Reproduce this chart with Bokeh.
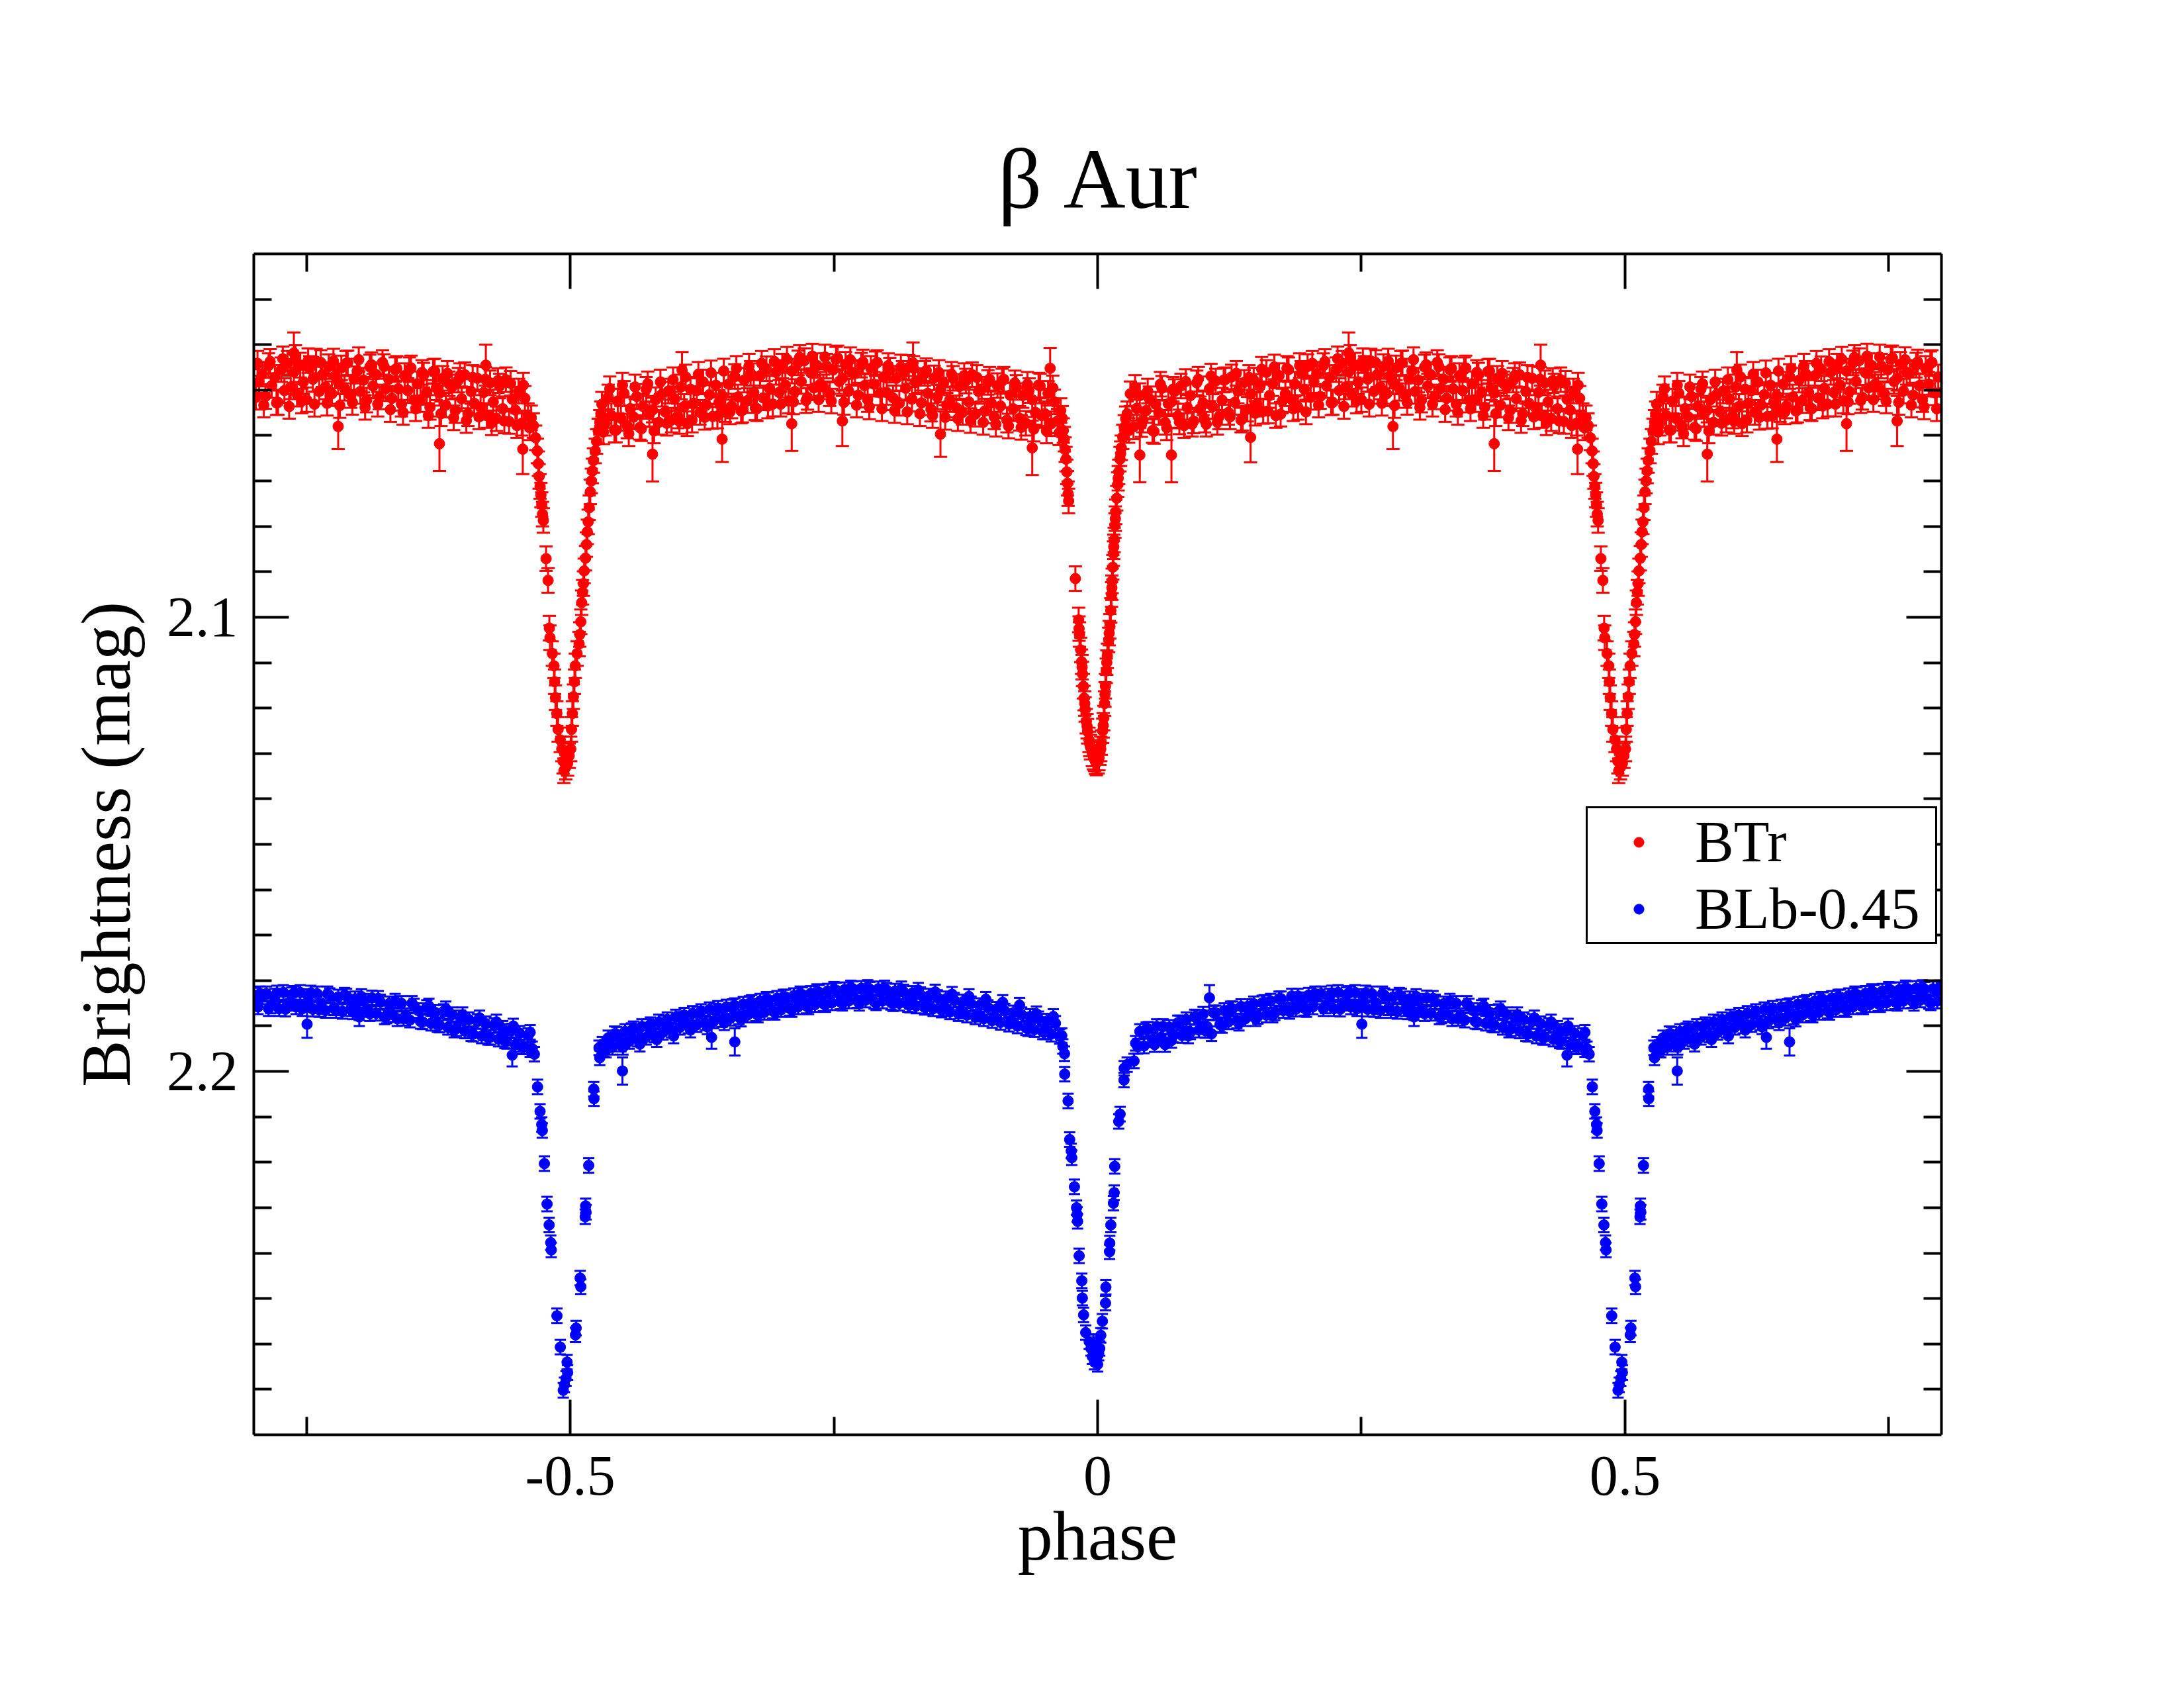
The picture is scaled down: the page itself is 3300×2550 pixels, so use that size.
import numpy as np
from bokeh.plotting import figure
from bokeh.models import (Range1d, LinearAxis, FixedTicker, Whisker, TeeHead,
                          ColumnDataSource, Legend, LegendItem)
from bokeh.embed import file_html
from bokeh.resources import INLINE

# ---------------- data (one folded cycle, phase in [-0.5, 0.5)) ----------------
# BTr, out of eclipse, phase 0.03 .. 0.46
btr_phase_a = [
    0.028, 0.031, 0.034, 0.037, 0.040, 0.043, 0.046, 0.049, 0.052, 0.055,
    0.058, 0.061, 0.064, 0.067, 0.070, 0.073, 0.076, 0.079, 0.082, 0.085,
    0.088, 0.091, 0.094, 0.097, 0.100, 0.103, 0.106, 0.109, 0.112, 0.115,
    0.118, 0.121, 0.124, 0.127, 0.130, 0.133, 0.136, 0.139, 0.142, 0.145,
    0.148, 0.151, 0.154, 0.157, 0.160, 0.163, 0.166, 0.169, 0.172, 0.175,
    0.178, 0.181, 0.184, 0.187, 0.190, 0.193, 0.196, 0.199, 0.202, 0.205,
    0.208, 0.211, 0.214, 0.217, 0.220, 0.223, 0.226, 0.229, 0.232, 0.235,
    0.238, 0.241, 0.244, 0.247, 0.250, 0.253, 0.256, 0.259, 0.262, 0.265,
    0.268, 0.271, 0.274, 0.277, 0.280, 0.283, 0.286, 0.289, 0.292, 0.295,
    0.298, 0.301, 0.304, 0.307, 0.310, 0.313, 0.316, 0.319, 0.322, 0.325,
    0.328, 0.331, 0.334, 0.337, 0.340, 0.343, 0.346, 0.349, 0.352, 0.355,
    0.358, 0.361, 0.364, 0.367, 0.370, 0.373, 0.376, 0.379, 0.382, 0.385,
    0.388, 0.391, 0.394, 0.397, 0.400, 0.403, 0.406, 0.409, 0.412, 0.415,
    0.418, 0.421, 0.424, 0.427, 0.430, 0.433, 0.436, 0.439, 0.442, 0.445,
    0.448, 0.451, 0.454, 0.457, 0.460, 0.463]
btr_mag_a = [
    2.0552, 2.0508, 2.0581, 2.0540, 2.0512, 2.0566, 2.0545, 2.0519, 2.0589, 2.0531,
    2.0549, 2.0496, 2.0571, 2.0530, 2.0526, 2.0503, 2.0557, 2.0491, 2.0578, 2.0538,
    2.0512, 2.0568, 2.0484, 2.0541, 2.0528, 2.0575, 2.0497, 2.0536, 2.0480, 2.0559,
    2.0522, 2.0477, 2.0549, 2.0471, 2.0527, 2.0502, 2.0566, 2.0483, 2.0542, 2.0509,
    2.0478, 2.0531, 2.0492, 2.0547, 2.0461, 2.0512, 2.0486, 2.0556, 2.0468, 2.0524,
    2.0508, 2.0455, 2.0521, 2.0487, 2.0538, 2.0463, 2.0498, 2.0448, 2.0516, 2.0481,
    2.0465, 2.0514, 2.0446, 2.0490, 2.0472, 2.0527, 2.0455, 2.0501, 2.0441, 2.0493,
    2.0460, 2.0509, 2.0445, 2.0482, 2.0521, 2.0452, 2.0476, 2.0436, 2.0503, 2.0466,
    2.0493, 2.0448, 2.0508, 2.0469, 2.0482, 2.0451, 2.0496, 2.0440, 2.0512, 2.0475,
    2.0458, 2.0503, 2.0478, 2.0522, 2.0449, 2.0491, 2.0466, 2.0515, 2.0439, 2.0497,
    2.0476, 2.0518, 2.0455, 2.0497, 2.0531, 2.0468, 2.0501, 2.0451, 2.0522, 2.0486,
    2.0521, 2.0467, 2.0505, 2.0538, 2.0459, 2.0495, 2.0507, 2.0474, 2.0533, 2.0486,
    2.0493, 2.0545, 2.0478, 2.0519, 2.0466, 2.0552, 2.0503, 2.0529, 2.0474, 2.0538,
    2.0505, 2.0556, 2.0484, 2.0526, 2.0563, 2.0491, 2.0541, 2.0477, 2.0569, 2.0520,
    2.0544, 2.0502, 2.0573, 2.0518, 2.0556, 2.0561]

# BTr, out of eclipse, phase -0.47 .. -0.035
btr_phase_b = [
    -0.470, -0.467, -0.464, -0.461, -0.458, -0.455, -0.452, -0.449, -0.446, -0.443,
    -0.440, -0.437, -0.434, -0.431, -0.428, -0.425, -0.422, -0.419, -0.416, -0.413,
    -0.410, -0.407, -0.404, -0.401, -0.398, -0.395, -0.392, -0.389, -0.386, -0.383,
    -0.380, -0.377, -0.374, -0.371, -0.368, -0.365, -0.362, -0.359, -0.356, -0.353,
    -0.350, -0.347, -0.344, -0.341, -0.338, -0.335, -0.332, -0.329, -0.326, -0.323,
    -0.320, -0.317, -0.314, -0.311, -0.308, -0.305, -0.302, -0.299, -0.296, -0.293,
    -0.290, -0.287, -0.284, -0.281, -0.278, -0.275, -0.272, -0.269, -0.266, -0.263,
    -0.260, -0.257, -0.254, -0.251, -0.248, -0.245, -0.242, -0.239, -0.236, -0.233,
    -0.230, -0.227, -0.224, -0.221, -0.218, -0.215, -0.212, -0.209, -0.206, -0.203,
    -0.200, -0.197, -0.194, -0.191, -0.188, -0.185, -0.182, -0.179, -0.176, -0.173,
    -0.170, -0.167, -0.164, -0.161, -0.158, -0.155, -0.152, -0.149, -0.146, -0.143,
    -0.140, -0.137, -0.134, -0.131, -0.128, -0.125, -0.122, -0.119, -0.116, -0.113,
    -0.110, -0.107, -0.104, -0.101, -0.098, -0.095, -0.092, -0.089, -0.086, -0.083,
    -0.080, -0.077, -0.074, -0.071, -0.068, -0.065, -0.062, -0.059, -0.056, -0.053,
    -0.050, -0.047, -0.044, -0.041, -0.038, -0.035]
btr_mag_b = [
    2.0531, 2.0573, 2.0515, 2.0556, 2.0588, 2.0524, 2.0562, 2.0507, 2.0579, 2.0541,
    2.0559, 2.0514, 2.0582, 2.0536, 2.0498, 2.0553, 2.0544, 2.0521, 2.0571, 2.0509,
    2.0548, 2.0502, 2.0566, 2.0519, 2.0557, 2.0493, 2.0536, 2.0574, 2.0498, 2.0529,
    2.0501, 2.0549, 2.0482, 2.0533, 2.0510, 2.0558, 2.0489, 2.0527, 2.0512, 2.0543,
    2.0487, 2.0535, 2.0470, 2.0515, 2.0546, 2.0478, 2.0523, 2.0463, 2.0505, 2.0541,
    2.0468, 2.0517, 2.0453, 2.0496, 2.0531, 2.0461, 2.0505, 2.0447, 2.0489, 2.0524,
    2.0458, 2.0503, 2.0440, 2.0481, 2.0435, 2.0516, 2.0462, 2.0495, 2.0446, 2.0487,
    2.0493, 2.0447, 2.0508, 2.0456, 2.0432, 2.0481, 2.0474, 2.0443, 2.0502, 2.0461,
    2.0463, 2.0511, 2.0445, 2.0490, 2.0521, 2.0452, 2.0487, 2.0439, 2.0506, 2.0471,
    2.0505, 2.0456, 2.0517, 2.0474, 2.0529, 2.0463, 2.0496, 2.0450, 2.0520, 2.0482,
    2.0479, 2.0528, 2.0463, 2.0507, 2.0542, 2.0473, 2.0515, 2.0500, 2.0484, 2.0533,
    2.0521, 2.0474, 2.0539, 2.0492, 2.0549, 2.0480, 2.0526, 2.0466, 2.0553, 2.0503,
    2.0498, 2.0546, 2.0483, 2.0528, 2.0559, 2.0490, 2.0535, 2.0476, 2.0566, 2.0511,
    2.0541, 2.0494, 2.0562, 2.0512, 2.0573, 2.0501, 2.0521, 2.0549, 2.0489, 2.0556,
    2.0552, 2.0507, 2.0574, 2.0526, 2.0568, 2.0545]

# BTr, second (wider-scatter) out-of-eclipse group
btr_phase_c = [
    0.0295, 0.0355, 0.0415, 0.0475, 0.0535, 0.0595, 0.0655, 0.0715, 0.0775, 0.0835,
    0.0895, 0.0955, 0.1015, 0.1075, 0.1135, 0.1195, 0.1255, 0.1315, 0.1375, 0.1435,
    0.1495, 0.1555, 0.1615, 0.1675, 0.1735, 0.1795, 0.1855, 0.1915, 0.1975, 0.2035,
    0.2095, 0.2155, 0.2215, 0.2275, 0.2335, 0.2395, 0.2455, 0.2515, 0.2575, 0.2635,
    0.2695, 0.2755, 0.2815, 0.2875, 0.2935, 0.2995, 0.3055, 0.3115, 0.3175, 0.3235,
    0.3295, 0.3355, 0.3415, 0.3475, 0.3535, 0.3595, 0.3655, 0.3715, 0.3775, 0.3835,
    0.3895, 0.3955, 0.4015, 0.4075, 0.4135, 0.4195, 0.4255, 0.4315, 0.4375, 0.4435,
    0.4495, 0.4555, 0.4615,
    -0.4685, -0.4625, -0.4565, -0.4505, -0.4445, -0.4385, -0.4325, -0.4265, -0.4205, -0.4145,
    -0.4085, -0.4025, -0.3965, -0.3905, -0.3845, -0.3785, -0.3725, -0.3665, -0.3605, -0.3545,
    -0.3485, -0.3425, -0.3365, -0.3305, -0.3245, -0.3185, -0.3125, -0.3065, -0.3005, -0.2945,
    -0.2885, -0.2825, -0.2765, -0.2705, -0.2645, -0.2585, -0.2525, -0.2465, -0.2405, -0.2345,
    -0.2285, -0.2225, -0.2165, -0.2105, -0.2045, -0.1985, -0.1925, -0.1865, -0.1805, -0.1745,
    -0.1685, -0.1625, -0.1565, -0.1505, -0.1445, -0.1385, -0.1325, -0.1265, -0.1205, -0.1145,
    -0.1085, -0.1025, -0.0965, -0.0905, -0.0845, -0.0785, -0.0725, -0.0665, -0.0605, -0.0545,
    -0.0485, -0.0425, -0.0365]
btr_mag_c = [
    2.0589, 2.0494, 2.0576, 2.0502, 2.0591, 2.0487, 2.0583, 2.0498, 2.0570, 2.0481,
    2.0575, 2.0476, 2.0566, 2.0469, 2.0571, 2.0478, 2.0559, 2.0463, 2.0562, 2.0472,
    2.0551, 2.0454, 2.0546, 2.0449, 2.0553, 2.0452, 2.0541, 2.0446, 2.0548, 2.0441,
    2.0533, 2.0437, 2.0528, 2.0431, 2.0536, 2.0428, 2.0524, 2.0435, 2.0531, 2.0439,
    2.0529, 2.0436, 2.0534, 2.0441, 2.0527, 2.0433, 2.0538, 2.0444, 2.0531, 2.0448,
    2.0543, 2.0452, 2.0549, 2.0455, 2.0541, 2.0461, 2.0556, 2.0458, 2.0552, 2.0463,
    2.0561, 2.0468, 2.0567, 2.0472, 2.0559, 2.0476, 2.0572, 2.0479, 2.0568, 2.0485,
    2.0578, 2.0489, 2.0583,
    2.0592, 2.0497, 2.0588, 2.0489, 2.0596, 2.0493, 2.0585, 2.0486, 2.0590, 2.0482,
    2.0573, 2.0477, 2.0569, 2.0471, 2.0566, 2.0465, 2.0560, 2.0462, 2.0557, 2.0458,
    2.0548, 2.0452, 2.0544, 2.0447, 2.0539, 2.0441, 2.0535, 2.0437, 2.0531, 2.0432,
    2.0526, 2.0428, 2.0523, 2.0425, 2.0521, 2.0427, 2.0524, 2.0429, 2.0527, 2.0433,
    2.0533, 2.0438, 2.0537, 2.0442, 2.0541, 2.0446, 2.0545, 2.0449, 2.0548, 2.0452,
    2.0552, 2.0457, 2.0556, 2.0461, 2.0560, 2.0465, 2.0563, 2.0468, 2.0567, 2.0472,
    2.0571, 2.0476, 2.0575, 2.0480, 2.0579, 2.0484, 2.0582, 2.0487, 2.0586, 2.0491,
    2.0590, 2.0495, 2.0594]

# BTr, primary eclipse (phase 0)
btr_phase_p = [
    -0.0335, -0.0325, -0.0315, -0.0308, -0.0300, -0.0292, -0.0285, -0.0280, -0.0275, -0.0211,
    -0.0180, -0.0176, -0.0172, -0.0160, -0.0152, -0.0147, -0.0143, -0.0135, -0.0128, -0.0122,
    -0.0118, -0.0108, -0.0100, -0.0095, -0.0082, -0.0075, -0.0068, -0.0050, -0.0040, -0.0030,
    -0.0020, -0.0012, 0.0005, 0.0013, 0.0022, 0.0030, 0.0035, 0.0048, 0.0053, 0.0058,
    0.0066, 0.0070, 0.0074, 0.0082, 0.0087, 0.0092, 0.0105, 0.0110, 0.0116, 0.0125,
    0.0132, 0.0135, 0.0138, 0.0144, 0.0150, 0.0153, 0.0157, 0.0164, 0.0168, 0.0172,
    0.0181, 0.0190, 0.0195, 0.0200, 0.0212, 0.0218, 0.0224, 0.0238, 0.0252, 0.0266]
btr_mag_p = [
    2.0562, 2.0589, 2.0608, 2.0631, 2.0652, 2.0680, 2.0705, 2.0728, 2.0744, 2.0915,
    2.1006, 2.1025, 2.1038, 2.1072, 2.1098, 2.1110, 2.1125, 2.1152, 2.1178, 2.1190,
    2.1203, 2.1229, 2.1240, 2.1251, 2.1270, 2.1279, 2.1286, 2.1301, 2.1308, 2.1312,
    2.1318, 2.1321, 2.1317, 2.1310, 2.1298, 2.1290, 2.1276, 2.1250, 2.1238, 2.1222,
    2.1190, 2.1170, 2.1152, 2.1118, 2.1100, 2.1085, 2.1050, 2.1035, 2.1020, 2.0985,
    2.0950, 2.0935, 2.0920, 2.0890, 2.0860, 2.0845, 2.0830, 2.0798, 2.0783, 2.0768,
    2.0738, 2.0708, 2.0694, 2.0680, 2.0652, 2.0640, 2.0627, 2.0603, 2.0582, 2.0563]

# BTr, secondary eclipse (phase +-0.5)
btr_phase_s = [
    0.4650, 0.4672, 0.4688, 0.4698, 0.4705, 0.4714, 0.4722, 0.4730, 0.4737, 0.4745,
    0.4771, 0.4790, 0.4802, 0.4808, 0.4830, 0.4846, 0.4852, 0.4860, 0.4873, 0.4885,
    0.4905, 0.4920, 0.4932, 0.4940, 0.4958, 0.4975, 0.4990,
    -0.4995, -0.4988, -0.4980, -0.4970, -0.4960, -0.4952, -0.4935, -0.4916, -0.4910, -0.4900,
    -0.4892, -0.4883, -0.4875, -0.4868, -0.4855, -0.4846, -0.4838, -0.4830, -0.4820, -0.4810,
    -0.4800, -0.4790, -0.4780, -0.4763, -0.4750, -0.4735, -0.4720, -0.4710]
btr_mag_s = [
    2.0578, 2.0605, 2.0634, 2.0662, 2.0690, 2.0712, 2.0731, 2.0752, 2.0773, 2.0787,
    2.0871, 2.0919, 2.1024, 2.1045, 2.1080, 2.1107, 2.1142, 2.1177, 2.1212, 2.1247,
    2.1270, 2.1290, 2.1317, 2.1338, 2.1330, 2.1322, 2.1305,
    2.1290, 2.1247, 2.1212, 2.1175, 2.1142, 2.1107, 2.1080, 2.1059, 2.1038, 2.1010,
    2.0968, 2.0945, 2.0926, 2.0898, 2.0870, 2.0840, 2.0812, 2.0790, 2.0759, 2.0724,
    2.0700, 2.0678, 2.0655, 2.0634, 2.0613, 2.0590, 2.0571, 2.0552]
btr_err = 0.0027

# BTr points with large error bars
btr_out_phase = [0.040, 0.070, 0.145, 0.238, 0.280, 0.376, 0.420, 0.455, -0.422,
                 -0.394, -0.356, -0.290, -0.242, -0.175, -0.149, -0.062, -0.045]
btr_out_mag = [2.0643, 2.0643, 2.0604, 2.0418, 2.0580, 2.0618, 2.0445, 2.0630, 2.0641,
               2.0456, 2.0608, 2.0574, 2.0568, 2.0440, 2.0597, 2.0627, 2.0452]
btr_out_err = [0.0060, 0.0060, 0.0055, 0.0045, 0.0050, 0.0060, 0.0045, 0.0055, 0.0060,
               0.0040, 0.0050, 0.0060, 0.0055, 0.0045, 0.0050, 0.0060, 0.0045]

# BLb-0.45, out of eclipse, phase 0.036 .. 0.464
blb_phase_a = [
    0.036, 0.040, 0.044, 0.048, 0.052, 0.056, 0.060, 0.064, 0.068, 0.072,
    0.076, 0.080, 0.084, 0.088, 0.092, 0.096, 0.100, 0.104, 0.108, 0.112,
    0.116, 0.120, 0.124, 0.128, 0.132, 0.136, 0.140, 0.144, 0.148, 0.152,
    0.156, 0.160, 0.164, 0.168, 0.172, 0.176, 0.180, 0.184, 0.188, 0.192,
    0.196, 0.200, 0.204, 0.208, 0.212, 0.216, 0.220, 0.224, 0.228, 0.232,
    0.236, 0.240, 0.244, 0.248, 0.252, 0.256, 0.260, 0.264, 0.268, 0.272,
    0.276, 0.280, 0.284, 0.288, 0.292, 0.296, 0.300, 0.304, 0.308, 0.312,
    0.316, 0.320, 0.324, 0.328, 0.332, 0.336, 0.340, 0.344, 0.348, 0.352,
    0.356, 0.360, 0.364, 0.368, 0.372, 0.376, 0.380, 0.384, 0.388, 0.392,
    0.396, 0.400, 0.404, 0.408, 0.412, 0.416, 0.420, 0.424, 0.428, 0.432,
    0.436, 0.440, 0.444, 0.448, 0.452, 0.456, 0.460, 0.464]
blb_mag_a = [
    2.1938, 2.1912, 2.1944, 2.1907, 2.1930, 2.1901, 2.1925, 2.1941, 2.1903, 2.1920,
    2.1893, 2.1921, 2.1886, 2.1913, 2.1880, 2.1909, 2.1874, 2.1902, 2.1917, 2.1871,
    2.1897, 2.1866, 2.1891, 2.1862, 2.1889, 2.1857, 2.1884, 2.1872, 2.1851, 2.1879,
    2.1849, 2.1876, 2.1845, 2.1871, 2.1840, 2.1866, 2.1858, 2.1834, 2.1863, 2.1842,
    2.1861, 2.1832, 2.1858, 2.1836, 2.1829, 2.1856, 2.1834, 2.1862, 2.1826, 2.1850,
    2.1831, 2.1858, 2.1826, 2.1852, 2.1835, 2.1863, 2.1829, 2.1849, 2.1866, 2.1833,
    2.1860, 2.1836, 2.1868, 2.1834, 2.1862, 2.1840, 2.1871, 2.1845, 2.1864, 2.1838,
    2.1872, 2.1847, 2.1880, 2.1851, 2.1875, 2.1884, 2.1850, 2.1877, 2.1887, 2.1856,
    2.1866, 2.1891, 2.1859, 2.1894, 2.1870, 2.1898, 2.1868, 2.1903, 2.1875, 2.1906,
    2.1882, 2.1911, 2.1886, 2.1918, 2.1890, 2.1922, 2.1895, 2.1925, 2.1899, 2.1929,
    2.1905, 2.1934, 2.1911, 2.1941, 2.1916, 2.1946, 2.1921, 2.1950]

# BLb-0.45, out of eclipse, phase -0.468 .. -0.036
blb_phase_b = [
    -0.468, -0.464, -0.460, -0.456, -0.452, -0.448, -0.444, -0.440, -0.436, -0.432,
    -0.428, -0.424, -0.420, -0.416, -0.412, -0.408, -0.404, -0.400, -0.396, -0.392,
    -0.388, -0.384, -0.380, -0.376, -0.372, -0.368, -0.364, -0.360, -0.356, -0.352,
    -0.348, -0.344, -0.340, -0.336, -0.332, -0.328, -0.324, -0.320, -0.316, -0.312,
    -0.308, -0.304, -0.300, -0.296, -0.292, -0.288, -0.284, -0.280, -0.276, -0.272,
    -0.268, -0.264, -0.260, -0.256, -0.252, -0.248, -0.244, -0.240, -0.236, -0.232,
    -0.228, -0.224, -0.220, -0.216, -0.212, -0.208, -0.204, -0.200, -0.196, -0.192,
    -0.188, -0.184, -0.180, -0.176, -0.172, -0.168, -0.164, -0.160, -0.156, -0.152,
    -0.148, -0.144, -0.140, -0.136, -0.132, -0.128, -0.124, -0.120, -0.116, -0.112,
    -0.108, -0.104, -0.100, -0.096, -0.092, -0.088, -0.084, -0.080, -0.076, -0.072,
    -0.068, -0.064, -0.060, -0.056, -0.052, -0.048, -0.044, -0.040, -0.036]
blb_mag_b = [
    2.1951, 2.1926, 2.1947, 2.1918, 2.1940, 2.1912, 2.1934, 2.1906, 2.1929, 2.1901,
    2.1925, 2.1897, 2.1920, 2.1891, 2.1914, 2.1886, 2.1909, 2.1880, 2.1903, 2.1876,
    2.1900, 2.1872, 2.1897, 2.1868, 2.1893, 2.1864, 2.1889, 2.1861, 2.1886, 2.1858,
    2.1883, 2.1855, 2.1880, 2.1852, 2.1876, 2.1848, 2.1873, 2.1845, 2.1870, 2.1842,
    2.1867, 2.1839, 2.1864, 2.1836, 2.1861, 2.1833, 2.1858, 2.1831, 2.1856, 2.1828,
    2.1853, 2.1826, 2.1851, 2.1823, 2.1849, 2.1821, 2.1847, 2.1820, 2.1845, 2.1818,
    2.1844, 2.1817, 2.1843, 2.1819, 2.1846, 2.1818, 2.1845, 2.1821, 2.1848, 2.1823,
    2.1850, 2.1825, 2.1853, 2.1828, 2.1856, 2.1831, 2.1859, 2.1834, 2.1862, 2.1837,
    2.1865, 2.1840, 2.1869, 2.1843, 2.1873, 2.1847, 2.1876, 2.1851, 2.1880, 2.1855,
    2.1884, 2.1859, 2.1888, 2.1863, 2.1892, 2.1867, 2.1896, 2.1871, 2.1900, 2.1875,
    2.1904, 2.1879, 2.1908, 2.1884, 2.1913, 2.1889, 2.1918, 2.1894, 2.1923]

# BLb-0.45, second out-of-eclipse group
blb_phase_c = [
    0.038, 0.046, 0.054, 0.062, 0.070, 0.078, 0.086, 0.094, 0.102, 0.110,
    0.118, 0.126, 0.134, 0.142, 0.150, 0.158, 0.166, 0.174, 0.182, 0.190,
    0.198, 0.206, 0.214, 0.222, 0.230, 0.238, 0.246, 0.254, 0.262, 0.270,
    0.278, 0.286, 0.294, 0.302, 0.310, 0.318, 0.326, 0.334, 0.342, 0.350,
    0.358, 0.366, 0.374, 0.382, 0.390, 0.398, 0.406, 0.414, 0.422, 0.430,
    0.438, 0.446, 0.454, 0.462,
    -0.466, -0.458, -0.450, -0.442, -0.434, -0.426, -0.418, -0.410, -0.402, -0.394,
    -0.386, -0.378, -0.370, -0.362, -0.354, -0.346, -0.338, -0.330, -0.322, -0.314,
    -0.306, -0.298, -0.290, -0.282, -0.274, -0.266, -0.258, -0.250, -0.242, -0.234,
    -0.226, -0.218, -0.210, -0.202, -0.194, -0.186, -0.178, -0.170, -0.162, -0.154,
    -0.146, -0.138, -0.130, -0.122, -0.114, -0.106, -0.098, -0.090, -0.082, -0.074,
    -0.066, -0.058, -0.050, -0.042, -0.034]
blb_mag_c = [
    2.1945, 2.1908, 2.1941, 2.1901, 2.1932, 2.1893, 2.1922, 2.1881, 2.1910, 2.1871,
    2.1899, 2.1862, 2.1894, 2.1857, 2.1884, 2.1848, 2.1876, 2.1840, 2.1868, 2.1834,
    2.1864, 2.1829, 2.1862, 2.1827, 2.1863, 2.1828, 2.1862, 2.1827, 2.1864, 2.1829,
    2.1866, 2.1832, 2.1869, 2.1835, 2.1873, 2.1839, 2.1878, 2.1845, 2.1883, 2.1850,
    2.1890, 2.1856, 2.1897, 2.1862, 2.1909, 2.1875, 2.1917, 2.1882, 2.1925, 2.1891,
    2.1933, 2.1900, 2.1946, 2.1914,
    2.1953, 2.1917, 2.1947, 2.1910, 2.1940, 2.1901, 2.1930, 2.1893, 2.1922, 2.1885,
    2.1909, 2.1874, 2.1902, 2.1867, 2.1893, 2.1857, 2.1885, 2.1850, 2.1876, 2.1841,
    2.1870, 2.1836, 2.1864, 2.1829, 2.1858, 2.1824, 2.1853, 2.1819, 2.1850, 2.1816,
    2.1850, 2.1815, 2.1849, 2.1816, 2.1851, 2.1818, 2.1854, 2.1821, 2.1857, 2.1825,
    2.1862, 2.1830, 2.1867, 2.1835, 2.1874, 2.1841, 2.1880, 2.1848, 2.1888, 2.1854,
    2.1906, 2.1873, 2.1913, 2.1879, 2.1921]

# BLb-0.45, primary eclipse
blb_phase_p = [
    -0.0330, -0.0314, -0.0312, -0.0280, -0.0265, -0.0250, -0.0245, -0.0220, -0.0200, -0.0194,
    -0.0190, -0.0175, -0.0150, -0.0145, -0.0133, -0.0113, -0.0080, -0.0063, -0.0050, -0.0040,
    -0.0030, -0.0010, 0.0000, 0.0010, 0.0020, 0.0030, 0.0045, 0.0075, 0.0078, 0.0113,
    0.0115, 0.0125, 0.0150, 0.0157, 0.0162, 0.0200, 0.0213, 0.0250, 0.0252, 0.0280, 0.0345]
blb_mag_p = [
    2.1945, 2.1961, 2.2006, 2.2065, 2.2150, 2.2175, 2.2190, 2.2254, 2.2300, 2.2315,
    2.2330, 2.2406, 2.2461, 2.2499, 2.2536, 2.2575, 2.2595, 2.2610, 2.2628, 2.2595,
    2.2640, 2.2632, 2.2645, 2.2620, 2.2610, 2.2581, 2.2550, 2.2510, 2.2475, 2.2397,
    2.2378, 2.2338, 2.2290, 2.2267, 2.2209, 2.2110, 2.2094, 2.2019, 2.1993, 2.1985, 2.1977]

# BLb-0.45, secondary eclipse
blb_phase_s = [
    0.4620, 0.4660, 0.4690, 0.4714, 0.4730, 0.4735, 0.4755, 0.4780, 0.4800, 0.4815,
    0.4820, 0.4874, 0.4906, 0.4934, 0.4945, 0.4960, 0.4970, 0.4975,
    -0.4950, -0.4944, -0.4906, -0.4900, -0.4858, -0.4854, -0.4850, -0.4825, -0.4777, -0.4775,
    -0.4727, -0.4720, -0.4696]
blb_mag_s = [
    2.1952, 2.1962, 2.2034, 2.2088, 2.2117, 2.2130, 2.2203, 2.2292, 2.2338, 2.2377,
    2.2393, 2.2538, 2.2607, 2.2702, 2.2690, 2.2676, 2.2640, 2.2663,
    2.2580, 2.2565, 2.2455, 2.2474, 2.2320, 2.2296, 2.2310, 2.2207, 2.2039, 2.2060,
    2.1948, 2.1970, 2.1940]
blb_err = 0.0016

blb_out_phase = [0.106, 0.2505, 0.300, 0.445, -0.4505, -0.366, -0.344]
blb_out_mag = [2.1838, 2.1896, 2.1880, 2.1964, 2.1999, 2.1925, 2.1935]
blb_out_err = [0.0028, 0.0030, 0.0020, 0.0025, 0.0030, 0.0025, 0.0030]

# axes
x_lo, x_hi = -0.8, 0.8
y_top, y_bottom = 2.02, 2.28
x_major = [-0.5, 0.0, 0.5]
x_minor = [-0.75, -0.25, 0.25, 0.75]
x_labels = {-0.5: "-0.5", 0.0: "0", 0.5: "0.5"}
y_major = [2.1, 2.2]
y_minor = [2.03, 2.04, 2.05, 2.06, 2.07, 2.08, 2.09,
           2.11, 2.12, 2.13, 2.14, 2.15, 2.16, 2.17, 2.18, 2.19,
           2.21, 2.22, 2.23, 2.24, 2.25, 2.26, 2.27]
y_labels = {2.1: "2.1", 2.2: "2.2"}

RED = "#ff0000"
BLUE = "#0000ff"
FONT = "Liberation Serif"


def collect(phase_lists, mag_lists, typ_err, out_ph, out_mag, out_err):
    ph = np.concatenate([np.asarray(a, float) for a in phase_lists] + [np.asarray(out_ph, float)])
    mg = np.concatenate([np.asarray(a, float) for a in mag_lists] + [np.asarray(out_mag, float)])
    n_main = sum(len(a) for a in phase_lists)
    er = np.concatenate([np.full(n_main, typ_err), np.asarray(out_err, float)])
    # phase-folded display: each cycle repeated at phase-1 and phase+1
    P = np.concatenate([ph - 1.0, ph, ph + 1.0])
    M = np.concatenate([mg, mg, mg])
    E = np.concatenate([er, er, er])
    keep = (P >= x_lo) & (P <= x_hi)
    return P[keep], M[keep], E[keep]


rx, ry, re = collect([btr_phase_a, btr_phase_b, btr_phase_c, btr_phase_p, btr_phase_s],
                     [btr_mag_a, btr_mag_b, btr_mag_c, btr_mag_p, btr_mag_s],
                     btr_err, btr_out_phase, btr_out_mag, btr_out_err)
bx, by, be = collect([blb_phase_a, blb_phase_b, blb_phase_c, blb_phase_p, blb_phase_s],
                     [blb_mag_a, blb_mag_b, blb_mag_c, blb_mag_p, blb_mag_s],
                     blb_err, blb_out_phase, blb_out_mag, blb_out_err)

p = figure(frame_width=2550, frame_height=1784,
           min_border_left=383, min_border_right=351,
           min_border_top=383, min_border_bottom=367,
           x_range=Range1d(x_lo, x_hi), y_range=Range1d(y_bottom, y_top),
           output_backend="svg", toolbar_location=None)
p.outline_line_color = None
p.xgrid.visible = False
p.ygrid.visible = False
p.background_fill_color = "white"
p.border_fill_color = "white"

# title
p.title.text = "β Aur"
p.title.text_font = FONT
p.title.text_font_size = "130px"
p.title.text_font_style = "normal"
p.title.text_color = "black"
p.title.align = "center"
p.title.standoff = 84


def style_axis(ax, ticks, minor, labels, show):
    ax.ticker = FixedTicker(ticks=ticks, minor_ticks=minor)
    ax.axis_line_color = "black"
    ax.axis_line_width = 4
    ax.major_tick_line_color = "black"
    ax.minor_tick_line_color = "black"
    ax.major_tick_line_width = 4
    ax.minor_tick_line_width = 4
    ax.major_tick_in = 53
    ax.major_tick_out = 0
    ax.minor_tick_in = 27
    ax.minor_tick_out = 0
    ax.major_label_text_font = FONT
    ax.major_label_text_color = "black"
    if show:
        ax.major_label_text_font_size = "86px"
        ax.major_label_overrides = labels
    else:
        ax.major_label_text_font_size = "1px"
        ax.major_label_standoff = 0
        ax.major_label_overrides = {k: "" for k in labels}
    ax.axis_label_text_font = FONT
    ax.axis_label_text_font_size = "106px"
    ax.axis_label_text_font_style = "normal"
    ax.axis_label_text_color = "black"


xb = p.xaxis[0]
yl = p.yaxis[0]
style_axis(xb, x_major, x_minor, x_labels, True)
style_axis(yl, y_major, y_minor, y_labels, True)
xb.major_label_standoff = 33
yl.major_label_standoff = 24
xb.axis_label = "phase"
xb.axis_label_standoff = 1
yl.axis_label = "Brightness (mag)"
yl.axis_label_standoff = 30

xa = LinearAxis()
style_axis(xa, x_major, x_minor, x_labels, False)
p.add_layout(xa, "above")
yr = LinearAxis()
style_axis(yr, y_major, y_minor, y_labels, False)
p.add_layout(yr, "right")

# error bars
for X, Y, E, col, cap in ((rx, ry, re, RED, 20), (bx, by, be, BLUE, 17)):
    src = ColumnDataSource(dict(x=X, y=Y, lo=Y - E, hi=Y + E))
    w = Whisker(source=src, base="x", upper="hi", lower="lo", dimension="height",
                line_color=col, line_width=3,
                upper_head=TeeHead(size=cap, line_color=col, line_width=3),
                lower_head=TeeHead(size=cap, line_color=col, line_width=3))
    w.level = "glyph"
    p.add_layout(w)

r_red = p.scatter(rx, ry, size=16, marker="circle", fill_color=RED, line_color=RED)
r_blue = p.scatter(bx, by, size=16, marker="circle", fill_color=BLUE, line_color=BLUE)

legend = Legend(items=[LegendItem(label="BTr", renderers=[r_red]),
                       LegendItem(label="BLb-0.45", renderers=[r_blue])],
                location=(2013, 741))
legend.border_line_color = "black"
legend.border_line_width = 3
legend.border_line_alpha = 1.0
legend.background_fill_color = "white"
legend.background_fill_alpha = 1.0
legend.label_text_font = FONT
legend.label_text_font_size = "88px"
legend.label_text_color = "black"
legend.padding = 0
legend.margin = 0
legend.spacing = 0
legend.glyph_width = 154
legend.glyph_height = 38
legend.label_standoff = 8
legend.label_width = 363
legend.label_height = 60
p.add_layout(legend, "center")

open("out.html", "w").write(file_html(p, INLINE))
